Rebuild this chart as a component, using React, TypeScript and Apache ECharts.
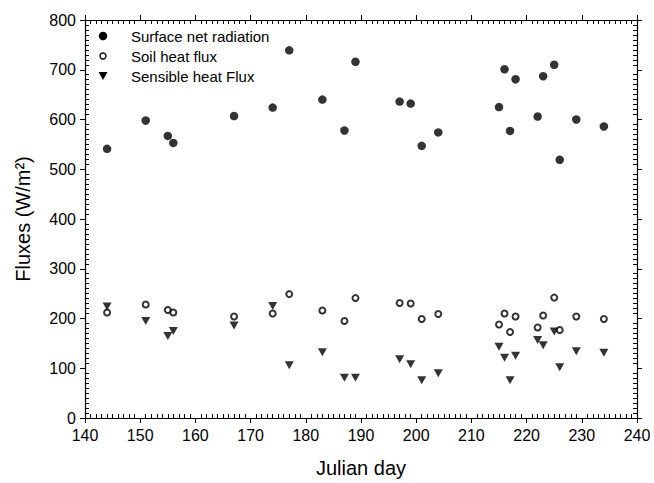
import React, { useEffect, useRef } from "react";
import * as echarts from "echarts";

const days = [144, 151, 155, 156, 167, 174, 177, 183, 187, 189, 197, 199, 201, 204, 215, 216, 217, 218, 222, 223, 225, 226, 229, 234];
const netRadiation = [541, 598, 567, 553, 607, 624, 739, 640, 578, 716, 636, 632, 547, 574, 625, 701, 577, 681, 606, 687, 710, 519, 600, 586];
const soilHeatFlux = [212, 228, 217, 212, 204, 210, 249, 216, 195, 241, 231, 230, 199, 209, 188, 210, 173, 204, 182, 206, 242, 177, 204, 199];
const sensibleHeatFlux = [224, 195, 165, 175, 186, 225, 106, 132, 81, 81, 118, 108, 76, 90, 143, 121, 76, 125, 157, 146, 174, 102, 134, 131];
const seriesNames = ["Surface net radiation", "Soil heat flux", "Sensible heat Flux"];
const xName = "Julian day";
const yName = "Fluxes (W/m²)";

const FONT = "Liberation Sans, Arial, Helvetica, sans-serif";

const pairs = (ys: number[]) => days.map((d, i) => [d, ys[i]]);

const majorAxis = (extra: any) => ({
  type: "value",
  axisLine: { show: true, onZero: false, lineStyle: { color: "#000", width: 1.2 } },
  axisTick: { show: true, inside: false, length: 5, lineStyle: { color: "#000", width: 1 } },
  minorTick: { show: false },
  splitLine: { show: false },
  minorSplitLine: { show: false },
  ...extra,
});

const minorAxis = (extra: any) => ({
  type: "value",
  axisLine: { show: false, onZero: false },
  axisTick: { show: false, inside: true },
  axisLabel: { show: false },
  minorTick: { show: true, splitNumber: 10, length: 4, lineStyle: { color: "#000", width: 1 } },
  splitLine: { show: false },
  minorSplitLine: { show: false },
  ...extra,
});

// legend drawn as graphic (symbol + label per series)
const legendX = 103;
const legendTop = 36;
const legendStep = 20;
const legendGraphic = () => {
  const els: any[] = [];
  seriesNames.forEach((name, i) => {
    const cy = legendTop + i * legendStep;
    if (i === 0) {
      els.push({ type: "circle", shape: { cx: legendX, cy, r: 4.25 }, style: { fill: "#000" } });
    } else if (i === 1) {
      els.push({ type: "circle", shape: { cx: legendX, cy, r: 3 }, style: { fill: "#fff", stroke: "#000", lineWidth: 1.4 } });
    } else {
      els.push({
        type: "polygon",
        shape: { points: [[legendX - 4.5, cy - 4], [legendX + 4.5, cy - 4], [legendX, cy + 4]] },
        style: { fill: "#000" },
      });
    }
    els.push({
      type: "text",
      x: legendX + 28,
      y: cy,
      style: { text: name, fontSize: 15, fontFamily: FONT, fill: "#000", verticalAlign: "middle", align: "left" },
    });
  });
  return els;
};

export default function App() {
  const ref = useRef<HTMLDivElement>(null);
  useEffect(() => {
    if (!ref.current) return;
    const chart = echarts.init(ref.current, undefined, { renderer: "svg" });
    const xRange = { min: 140, max: 240, interval: 10 };
    const yRange = { min: 0, max: 800, interval: 100 };
    chart.setOption({
      animation: false,
      grid: { left: 85, right: 17, top: 20, bottom: 65 },
      graphic: legendGraphic(),
      xAxis: [
        majorAxis({
          ...xRange,
          position: "bottom",
          name: xName,
          nameLocation: "middle",
          nameGap: 40,
          nameTextStyle: { fontSize: 20, color: "#000", fontFamily: FONT },
          axisLabel: { show: true, margin: 9, color: "#000", fontSize: 16, fontFamily: FONT },
        }),
        majorAxis({ ...xRange, position: "top", axisLabel: { show: false } }),
        minorAxis({ ...xRange, position: "bottom" }),
        minorAxis({ ...xRange, position: "top" }),
      ],
      yAxis: [
        majorAxis({
          ...yRange,
          position: "left",
          name: yName,
          nameLocation: "middle",
          nameGap: 52,
          nameTextStyle: { fontSize: 20, color: "#000", fontFamily: FONT },
          axisLabel: { show: true, margin: 9, color: "#000", fontSize: 16, fontFamily: FONT },
        }),
        majorAxis({ ...yRange, position: "right", axisLabel: { show: false } }),
        minorAxis({ ...yRange, position: "left" }),
        minorAxis({ ...yRange, position: "right" }),
      ],
      series: [
        {
          name: seriesNames[0],
          type: "scatter",
          data: pairs(netRadiation),
          symbol: "circle",
          symbolSize: 8.5,
          itemStyle: { color: "#000" },
        },
        {
          name: seriesNames[1],
          type: "scatter",
          data: pairs(soilHeatFlux),
          symbol: "emptyCircle",
          symbolSize: 6,
          itemStyle: { color: "#000", borderColor: "#000", borderWidth: 1.4 },
        },
        {
          name: seriesNames[2],
          type: "scatter",
          data: pairs(sensibleHeatFlux),
          symbol: "triangle",
          symbolRotate: 180,
          symbolSize: [9, 8],
          itemStyle: { color: "#000" },
        },
      ],
    });
    return () => chart.dispose();
  }, []);
  return (
    <div style={{ position: "absolute", left: 0, top: 0, width: 654 }}>
      <div ref={ref} style={{ width: 654, height: 483 }} />
    </div>
  );
}
